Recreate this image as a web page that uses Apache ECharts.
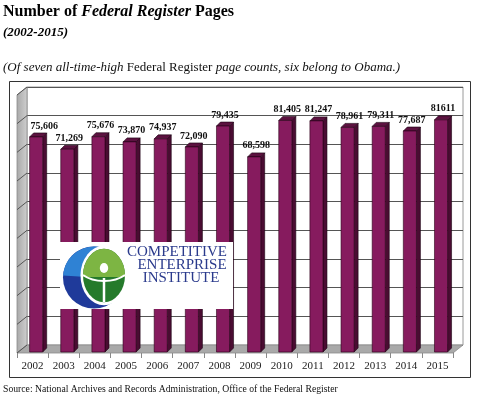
<!DOCTYPE html>
<html><head><meta charset="utf-8">
<script src="https://cdn.jsdelivr.net/npm/echarts@6/dist/echarts.min.js"></script>
<style>html,body{margin:0;padding:0;background:#fff}#c{width:480px;height:397px}</style>
</head><body><div id="c"></div>
<script>
const years = ['2002','2003','2004','2005','2006','2007','2008','2009','2010','2011','2012','2013','2014','2015'];
const pages = [75606,71269,75676,73870,74937,72090,79435,68598,81405,81247,78961,79311,77687,81611];
const valueLabels = ['75,606','71,269','75,676','73,870','74,937','72,090','79,435','68,598','81,405','81,247','78,961','79,311','77,687','81611'];
const wallTicks = [0,10000,20000,30000,40000,50000,60000,70000,80000,90000];

const SERIF = '"Liberation Serif","Times New Roman",serif';
const DX = -10, DY = 8; // depth offset back wall -> front plane

const chart = echarts.init(document.getElementById('c'), null, {renderer:'canvas'});

function logoEl(o) { o.z = 100; o.zlevel = 0; return o; }

const option = {
  backgroundColor: '#fff',
  animation: false,
  grid: [
    {left: 17, right: 27, top: 96, bottom: 45, containLabel: false},
    {left: 27, right: 17, top: 87, bottom: 52, show: true, backgroundColor: '#fff', borderColor: '#9a9a9a', borderWidth: 1, z: 0}
  ],
  xAxis: [
    {type: 'category', gridIndex: 0, data: years,
     axisLine: {show: false},
     axisTick: {show: true, length: 6, lineStyle: {color: '#888'}},
     axisLabel: {fontFamily: SERIF, fontSize: 11, color: '#222', margin: 9}},
    {type: 'value', gridIndex: 1, min: 0, max: 1, show: false}
  ],
  yAxis: [
    {type: 'value', gridIndex: 0, min: 0, max: 90000, interval: 10000, show: false},
    {type: 'value', gridIndex: 1, min: 0, max: 90000, interval: 10000,
     axisLine: {show: false}, axisTick: {show: false}, axisLabel: {show: false},
     splitLine: {show: true, lineStyle: {color: '#555', width: 1}}}
  ],
  series: [
    {
      type: 'custom', xAxisIndex: 1, yAxisIndex: 1, z: 1, silent: true,
      data: [[0, 0]],
      renderItem: function (params, api) {
        const p00 = api.coord([0, 0]);
        const p01 = api.coord([0, 90000]);
        const p10 = api.coord([1, 0]);
        const children = [];
        children.push({type: 'polygon', shape: {points: [p01, p00, [p00[0]+DX, p00[1]+DY], [p01[0]+DX, p01[1]+DY]]},
          style: {fill: new echarts.graphic.LinearGradient(0,0,1,0,[{offset:0,color:'#a8a8a8'},{offset:1,color:'#cfcfcf'}]), stroke: '#8a8a8a', lineWidth: 0.8}});
        children.push({type: 'polygon', shape: {points: [p00, p10, [p10[0]+DX, p10[1]+DY], [p00[0]+DX, p00[1]+DY]]},
          style: {fill: '#a9a9a9', stroke: '#8a8a8a', lineWidth: 0.8}});
        wallTicks.forEach(function (v) {
          const p = api.coord([0, v]);
          children.push({type: 'line', shape: {x1: p[0], y1: p[1], x2: p[0]+DX, y2: p[1]+DY}, style: {stroke: '#555', lineWidth: 1}});
        });
        return {type: 'group', children: children};
      }
    },
    {
      type: 'custom', xAxisIndex: 0, yAxisIndex: 0, z: 5,
      data: pages.map(function (v, i) { return [i, v]; }),
      renderItem: function (params, api) {
        const i = api.value(0);
        const base = api.coord([i, 0]);
        const top = api.coord([i, api.value(1)]);
        const band = api.size([1, 0])[0];
        const w = band * 0.42;
        const x0 = base[0] - band * 0.095;
        const x1 = x0 + w;
        const d = 4;
        const yT = top[1], yB = base[1];
        const lx = (x0 + x1) / 2 + d / 2 + (i === 0 ? 6 : 0);
        return {type: 'group', children: [
          {type: 'polygon', shape: {points: [[x1, yT], [x1 + d, yT - d], [x1 + d, yB - d], [x1, yB]]},
           style: {fill: '#4a0c32', stroke: '#1a0010', lineWidth: 0.6}},
          {type: 'polygon', shape: {points: [[x0, yT], [x1, yT], [x1 + d, yT - d], [x0 + d, yT - d]]},
           style: {fill: '#5c1240', stroke: '#1a0010', lineWidth: 0.6}},
          {type: 'rect', shape: {x: x0, y: yT, width: w, height: yB - yT},
           style: {fill: '#861b5e', stroke: '#2a0018', lineWidth: 0.6}},
          {type: 'text', x: lx, y: yT - d - 2,
           style: {text: valueLabels[i], fontFamily: SERIF, fontWeight: 'bold', fontSize: 10, fill: '#111', align: 'center', verticalAlign: 'bottom'}}
        ]};
      }
    }
  ],
  graphic: {
    elements: [
    {type: 'rect', z: 0, shape: {x: 9.5, y: 81.5, width: 461, height: 296}, style: {fill: 'none', stroke: '#333', lineWidth: 1}},
    {type: 'text', left: 3, top: 4, style: {
      text: 'Number of {bi|Federal Register} Pages',
      font: 'bold 16px ' + SERIF, fill: '#000',
      rich: {bi: {fontFamily: SERIF, fontWeight: 'bold', fontStyle: 'italic', fontSize: 16, fill: '#000'}}}},
    {type: 'text', left: 3, top: 26, style: {text: '(2002-2015)', font: 'italic bold 13px ' + SERIF, fill: '#000'}},
    {type: 'text', left: 3, top: 61, style: {
      text: '(Of seven all-time-high {r|Federal Register} page counts, six belong to Obama.)',
      font: 'italic 13px ' + SERIF, fill: '#111',
      rich: {r: {fontFamily: SERIF, fontStyle: 'normal', fontSize: 13, fill: '#111'}}}},
    {type: 'text', left: 3, top: 384, style: {text: 'Source: National Archives and Records Administration, Office of the Federal Register', font: '9.7px ' + SERIF, fill: '#111'}},
    logoEl({type: 'rect', shape: {x: 60, y: 242, width: 173, height: 67}, style: {fill: '#fff'}}),
    logoEl({type: 'circle', shape: {cx: 94, cy: 277.5, r: 31}, style: {fill: '#1f3a9a'}}),
    logoEl({type: 'sector', shape: {cx: 94, cy: 277.5, r: 31, startAngle: -Math.PI * 0.98, endAngle: -Math.PI * 0.3}, style: {fill: '#2f82d4'}}),
    logoEl({type: 'circle', x: 104, y: 275.5, scaleY: 1.27, shape: {cx: 0, cy: 0, r: 23.5}, style: {fill: '#fff'}}),
    logoEl({type: 'circle', x: 104, y: 275.5, scaleY: 1.27, shape: {cx: 0, cy: 0, r: 21}, style: {fill: '#257a2b'}}),
    logoEl({type: 'sector', x: 104, y: 275.5, scaleY: 1.27, shape: {cx: 0, cy: 0, r: 21, startAngle: -Math.PI, endAngle: 0}, style: {fill: '#7db543'}}),
    logoEl({type: 'rect', shape: {x: 83, y: 275, width: 42, height: 2}, style: {fill: '#7db543'}}),
    logoEl({type: 'circle', x: 104, y: 268, scaleY: 1.2, shape: {cx: 0, cy: 0, r: 4.2}, style: {fill: '#fff'}}),
    logoEl({type: 'line', shape: {x1: 104, y1: 278, x2: 104, y2: 302}, style: {stroke: '#fff', lineWidth: 2.5}}),
    logoEl({type: 'bezierCurve', shape: {x1: 83, y1: 275, cpx1: 94, cpy1: 283, x2: 125, y2: 275, cpx2: 114, cpy2: 283}, style: {stroke: '#fff', lineWidth: 2, fill: 'none'}}),
    logoEl({type: 'text', x: 177, y: 252, style: {text: 'COMPETITIVE', font: '15px ' + SERIF, fill: '#2a3a8c', align: 'center', verticalAlign: 'middle'}}),
    logoEl({type: 'text', x: 182, y: 265, style: {text: 'ENTERPRISE', font: '15px ' + SERIF, fill: '#2a3a8c', align: 'center', verticalAlign: 'middle'}}),
    logoEl({type: 'text', x: 181, y: 278, style: {text: 'INSTITUTE', font: '15px ' + SERIF, fill: '#2a3a8c', align: 'center', verticalAlign: 'middle'}})
    ]
  }
};
chart.setOption(option);
</script></body></html>
